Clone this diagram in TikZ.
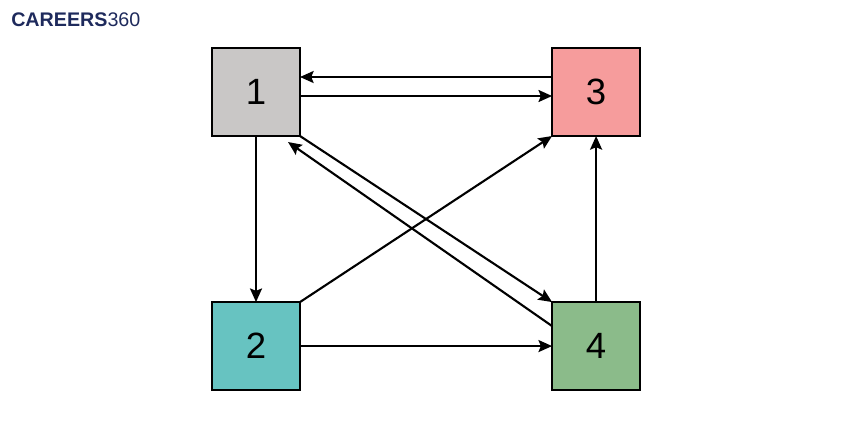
\documentclass[tikz,border=0pt]{standalone}
\usepackage{fontspec}
\usepackage{tikz}
\usetikzlibrary{arrows.meta, positioning}
\usepackage{xcolor}
\newfontfamily\numfont{Liberation Sans}
\definecolor{crgray}{HTML}{C9C7C6}
\definecolor{crred}{HTML}{F69C9C}
\definecolor{crteal}{HTML}{67C3C1}
\definecolor{crgreen}{HTML}{8BBB8A}
\definecolor{crnavy}{HTML}{1E2A5C}

\begin{document}
\begin{tikzpicture}[
    x=0.025cm, y=-0.025cm,
    vbox/.style={rectangle, draw=black, fill=#1, minimum width=2.2cm,
                 minimum height=2.2cm, inner sep=0pt, outer sep=0pt,
                 line width=1.5pt, font=\numfont\fontsize{26}{30}\selectfont},
    arrow/.style={-{Stealth[length=0.34cm, width=0.3cm, inset=0.06cm]},
                  line width=1.5pt, black}
  ]
    \useasboundingbox (0,0) rectangle (860,430);
    \node[anchor=west, inner sep=0pt, text=crnavy,
          font=\numfont\fontsize{14}{16}\selectfont] (logo) at (11,20)
          {\textbf{CAREERS}360};

    \node[vbox=crgray] (n1) at (256,92) {1};
    \node[vbox=crred, right=6.3cm of n1] (n3) {3};
    \node[vbox=crteal, below=4.15cm of n1] (n2) {2};
    \node[vbox=crgreen, below=4.15cm of n3] (n4) {4};

    \draw[arrow] ([yshift=0.375cm]n3.west) -- ([yshift=0.375cm]n1.east);
    \draw[arrow] ([yshift=-0.1cm]n1.east) -- ([yshift=-0.1cm]n3.west);
    \draw[arrow] (n1) -- (n2);
    \draw[arrow] (n2) -- (n4);
    \draw[arrow] (n4) -- (n3);
    \draw[arrow] (n2.north east) -- (n3.south west);
    \draw[arrow] (n1.south east) -- (n4.north west);
    \draw[arrow] ([yshift=0.5cm]n4.west) -- ([xshift=-0.3cm, yshift=-0.15cm]n1.south east);
  \end{tikzpicture}
\end{document}
